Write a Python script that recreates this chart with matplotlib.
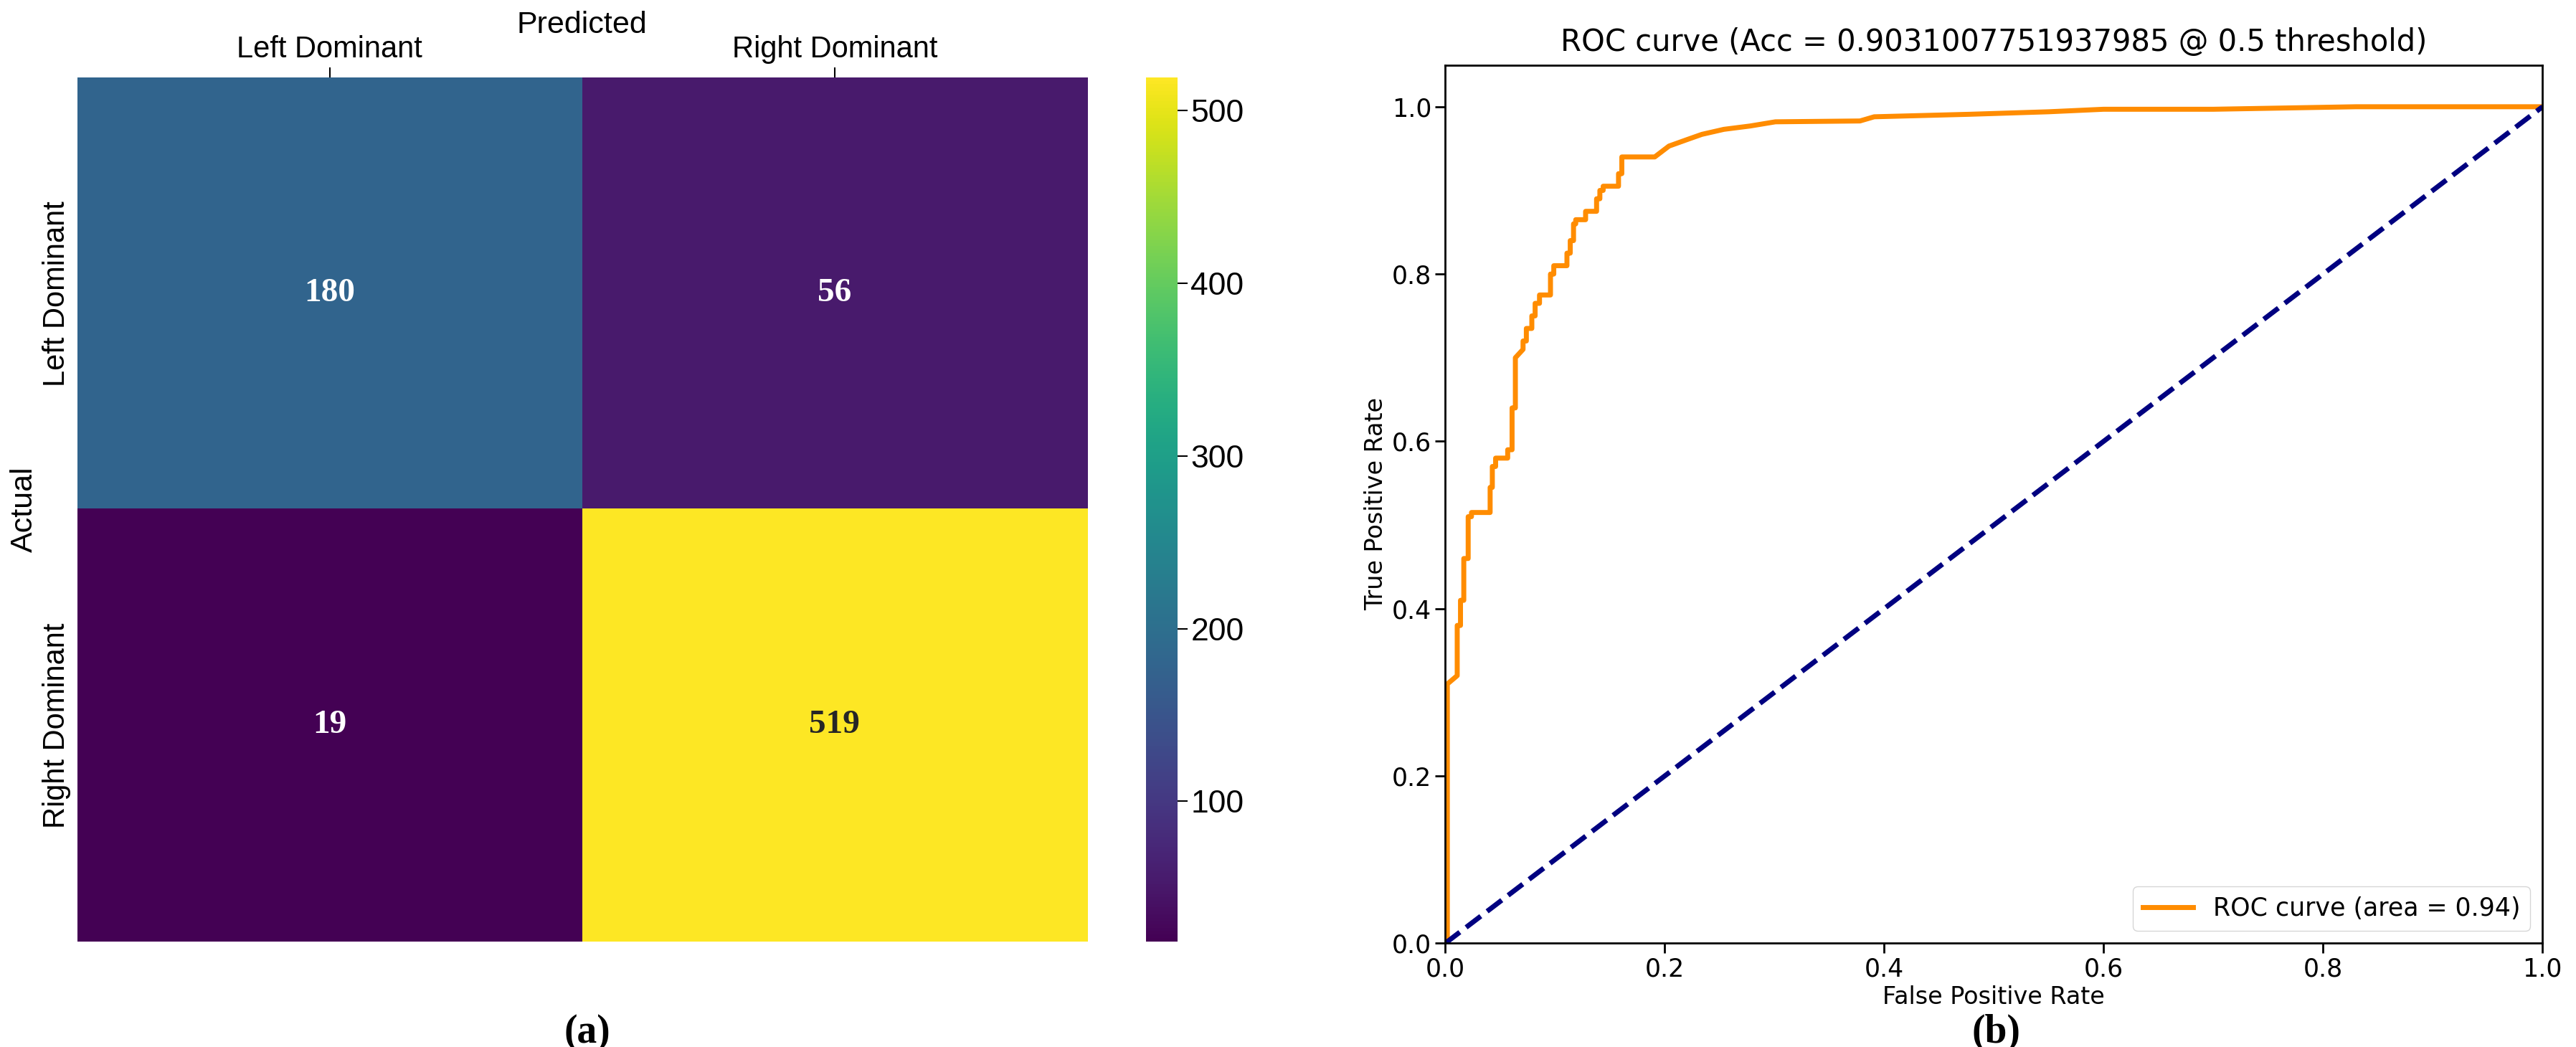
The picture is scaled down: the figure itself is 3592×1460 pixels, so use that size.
import matplotlib
matplotlib.use("Agg")
import matplotlib.pyplot as plt
import numpy as np

classes = ["Left Dominant", "Right Dominant"]
cm = [[180, 56], [19, 519]]
cbar_ticks = [100, 200, 300, 400, 500]

fpr = [0.0, 0.002, 0.002, 0.011, 0.011, 0.014, 0.014, 0.017, 0.017, 0.021, 0.021, 0.024, 0.024,
       0.041, 0.041, 0.043, 0.043, 0.046, 0.046, 0.057, 0.057, 0.061, 0.061, 0.064, 0.064,
       0.071, 0.071, 0.074, 0.074, 0.079, 0.079, 0.082, 0.082, 0.086, 0.086, 0.096, 0.096,
       0.099, 0.099, 0.111, 0.111, 0.114, 0.114, 0.117, 0.117, 0.119, 0.119, 0.128, 0.128,
       0.138, 0.138, 0.141, 0.141, 0.144, 0.144, 0.158, 0.158, 0.161, 0.161, 0.164, 0.164,
       0.191, 0.204, 0.221, 0.234, 0.254, 0.278, 0.301, 0.378, 0.391, 0.478, 0.55, 0.60,
       0.70, 0.83, 1.0]
tpr = [0.0, 0.0, 0.31, 0.32, 0.38, 0.38, 0.41, 0.41, 0.46, 0.46, 0.51, 0.51, 0.515,
       0.515, 0.545, 0.545, 0.57, 0.57, 0.58, 0.58, 0.59, 0.59, 0.64, 0.64, 0.70,
       0.71, 0.72, 0.72, 0.735, 0.735, 0.75, 0.75, 0.765, 0.765, 0.775, 0.775, 0.80,
       0.80, 0.81, 0.81, 0.825, 0.825, 0.84, 0.84, 0.86, 0.86, 0.865, 0.865, 0.875,
       0.875, 0.89, 0.89, 0.90, 0.90, 0.905, 0.905, 0.92, 0.92, 0.94, 0.94, 0.94,
       0.94, 0.953, 0.961, 0.967, 0.973, 0.977, 0.982, 0.983, 0.988, 0.991, 0.994, 0.997,
       0.997, 1.0, 1.0]

fig = plt.figure(figsize=(35.92, 14.60), dpi=100)

# --- heatmap ---
sans = "Liberation Sans"
ax = fig.add_axes([0.030, 0.101, 0.392, 0.825])
arr = np.array(cm)
im = ax.imshow(arr, cmap="viridis", aspect="auto", vmin=arr.min(), vmax=arr.max())
for i in range(2):
    for j in range(2):
        v = arr[i, j]
        col = "white" if v < 300 else "#262626"
        ax.text(j, i, str(v), ha="center", va="center", fontsize=34, fontweight="bold",
                family="Liberation Serif", color=col)
ax.set_xticks(range(2))
ax.set_xticklabels(classes, fontsize=30, family=sans)
ax.set_yticks(range(2))
ax.set_yticklabels(classes, fontsize=30, family=sans, rotation=90, va="center")
ax.xaxis.tick_top()
ax.xaxis.set_label_position("top")
ax.set_xlabel("Predicted", fontsize=31, family=sans, labelpad=2)
ax.set_ylabel("Actual", fontsize=31, family=sans, labelpad=4)
ax.tick_params(axis="x", length=10, width=1.5, pad=4)
ax.tick_params(axis="y", length=0, pad=6)
for s in ax.spines.values():
    s.set_visible(False)

cax = fig.add_axes([0.445, 0.101, 0.012, 0.825])
cb = fig.colorbar(im, cax=cax, ticks=cbar_ticks)
cb.outline.set_visible(False)
cb.ax.tick_params(labelsize=32, length=10, width=1.5)
for t in cb.ax.get_yticklabels():
    t.set_family(sans)

# --- ROC ---
ax2 = fig.add_axes([0.561, 0.099, 0.426, 0.839])
ax2.plot(fpr, tpr, color="darkorange", lw=5, label="ROC curve (area = 0.94)")
ax2.plot([0, 1], [0, 1], color="navy", lw=5, linestyle="--")
ax2.set_xlim(0, 1.0)
ax2.set_ylim(0, 1.05)
ax2.set_xlabel("False Positive Rate", fontsize=24, labelpad=4)
ax2.set_ylabel("True Positive Rate", fontsize=24)
ax2.set_title("ROC curve (Acc = 0.9031007751937985 @ 0.5 threshold)", fontsize=30, pad=14)
ax2.tick_params(labelsize=25, length=10, width=2)
for s in ax2.spines.values():
    s.set_linewidth(2)
ax2.legend(loc="lower right", fontsize=25)

fig.text(0.228, 0.004, "(a)", ha="center", fontsize=40, family="Liberation Serif", fontweight="bold")
fig.text(0.775, 0.004, "(b)", ha="center", fontsize=40, family="Liberation Serif", fontweight="bold")

fig.savefig("out.png", dpi=100)
